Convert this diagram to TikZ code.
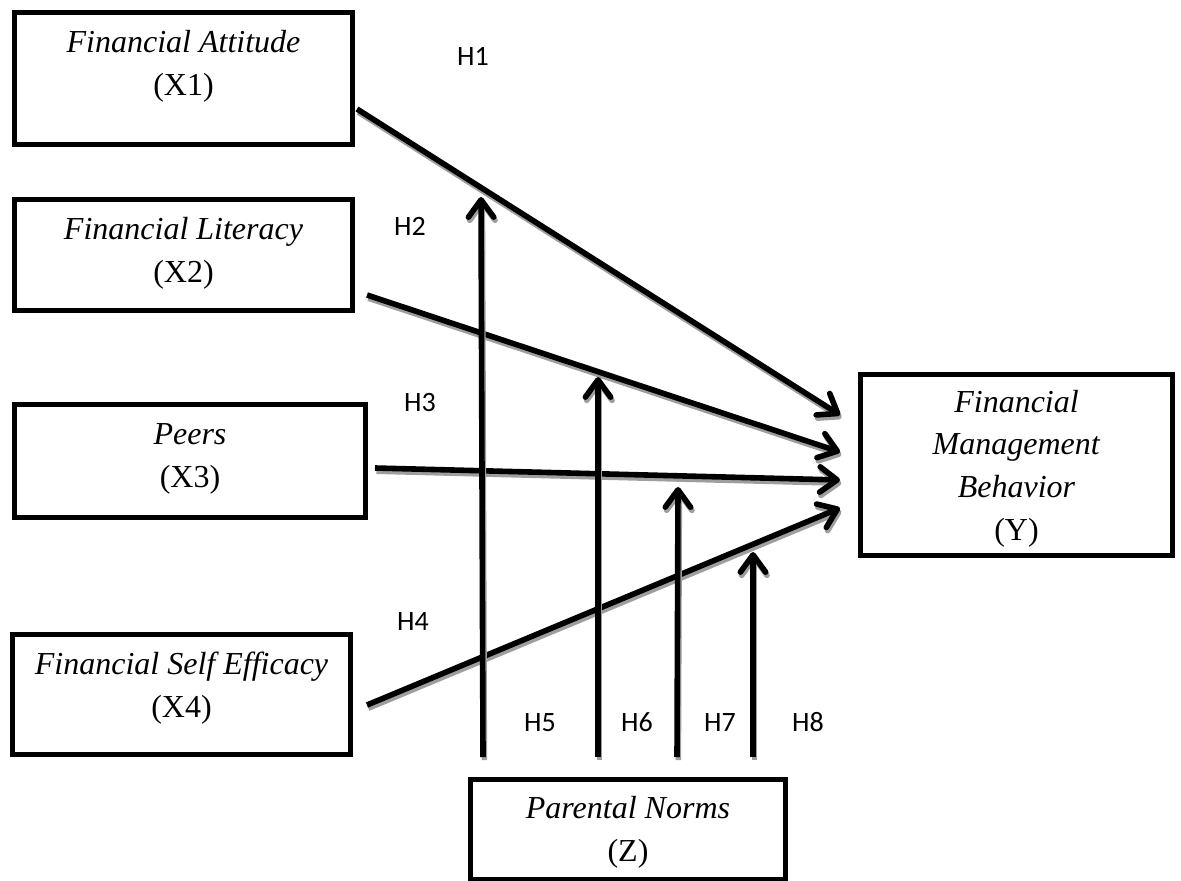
\documentclass[tikz,border=0pt]{standalone}
\usepackage{fontspec}
\setmainfont{Liberation Serif}
\newfontfamily\hfont{Carlito}
\usetikzlibrary{arrows.meta}
\begin{document}
\begin{tikzpicture}[x=0.75pt,y=-0.75pt,
  box/.style={draw=black, line width=4.1pt, rectangle, inner sep=0pt},
  boxtext/.style={font=\fontsize{24}{32}\selectfont, align=center, inner sep=0pt},
  hyp/.style={font=\hfont\fontsize{21}{24}\selectfont, inner sep=0pt, anchor=base},
  tip/.style={-{Straight Barb[length=13pt,width=19pt,round]}},
  link/.style={line width=4.2pt, tip,
    preaction={draw=black!38, line width=4.2pt, tip,
      transform canvas={xshift=1pt,yshift=-2.4pt}}}]
\useasboundingbox (0,0) rectangle (1181,881);
% boxes
\node[box, minimum width=338*0.75pt, minimum height=132*0.75pt] (x1) at (183.5,78.5) {};
\node[box, minimum width=338*0.75pt, minimum height=111*0.75pt] (x2) at (183.5,255) {};
\node[box, minimum width=351*0.75pt, minimum height=113*0.75pt] (x3) at (190,461) {};
\node[box, minimum width=338*0.75pt, minimum height=120*0.75pt] (x4) at (181.5,694.5) {};
\node[box, minimum width=312*0.75pt, minimum height=181*0.75pt] (y) at (1016.5,465) {};
\node[box, minimum width=315*0.75pt, minimum height=100*0.75pt] (z) at (628,829.5) {};
% texts
\node[boxtext] (x1t) at (183.5,66.5) {\textit{Financial Attitude}\\(X1)};
\node[boxtext] (x2t) at (183.5,253.5) {\textit{Financial Literacy}\\(X2)};
\node[boxtext] (x3t) at (190,459) {\textit{Peers}\\(X3)};
\node[boxtext] (x4t) at (181.5,688) {\textit{Financial Self Efficacy}\\(X4)};
\node[boxtext] (yt) at (1016.5,468.5) {\textit{Financial}\\\textit{Management}\\\textit{Behavior}\\(Y)};
\node[boxtext] (zt) at (628,832.5) {\textit{Parental Norms}\\(Z)};
% hypothesis labels
\node[hyp] (h1) at (473,65) {H1};
\node[hyp] (h2) at (410,235) {H2};
\node[hyp] (h3) at (420,411) {H3};
\node[hyp] (h4) at (413,630) {H4};
\node[hyp] (h5) at (540,731) {H5};
\node[hyp] (h6) at (637,731) {H6};
\node[hyp] (h7) at (720,731) {H7};
\node[hyp] (h8) at (808,731) {H8};
% connector end points
\coordinate (s1) at (357,109);
\coordinate (s2) at (367,295);
\coordinate (s3) at (375,468);
\coordinate (s4) at (367,705);
\coordinate (e1) at (840,415);
\coordinate (e2) at (840,452);
\coordinate (e3) at (840,480);
\coordinate (e4) at (840,508);
\coordinate (z5) at (483,757);
\coordinate (z6) at (598,757);
\coordinate (z7) at (677,757);
\coordinate (z8) at (753,757);
\coordinate (t5) at (481,197);
\coordinate (t6) at (598,377);
\coordinate (t7) at (678,487);
\coordinate (t8) at (753,552);
% connectors
\draw[link] (s1) -- (e1);
\draw[link] (s2) -- (e2);
\draw[link] (s3) -- (e3);
\draw[link] (s4) -- (e4);
\draw[link] (z5) -- (t5);
\draw[link] (z6) -- (t6);
\draw[link] (z7) -- (t7);
\draw[link] (z8) -- (t8);
\end{tikzpicture}
\end{document}
